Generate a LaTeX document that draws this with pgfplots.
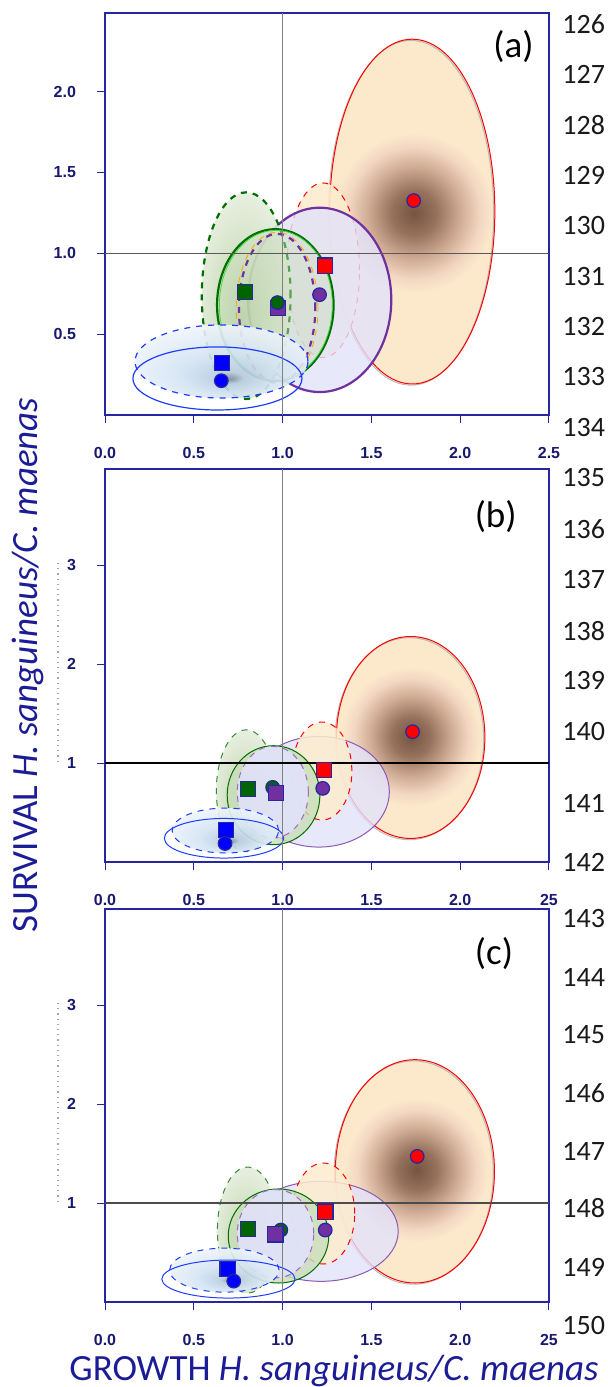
\documentclass[border=0pt]{standalone}
\usepackage{pgfplots}
\pgfplotsset{compat=1.18}
\usepackage{fontspec}
\setmainfont{Carlito}
\newfontfamily\tickfont{Liberation Sans}

\definecolor{navy}{RGB}{38,38,160}
\definecolor{ticknavy}{RGB}{25,25,110}
\definecolor{labelblue}{RGB}{28,28,150}
\definecolor{wheatc}{RGB}{252,233,203}
\definecolor{wheatd}{RGB}{253,236,206}
\definecolor{glow0}{RGB}{118,84,64}
\definecolor{glow1}{RGB}{150,114,94}
\definecolor{glow2}{RGB}{208,172,148}
\definecolor{glow3}{RGB}{242,214,194}
\definecolor{lav}{RGB}{226,226,250}
\definecolor{purp}{RGB}{112,48,160}
\definecolor{dgreen}{RGB}{0,110,0}
\definecolor{lgreen}{RGB}{70,220,70}
\definecolor{lgreenfill}{RGB}{200,222,185}
\definecolor{mblue}{RGB}{30,60,255}
\definecolor{bl0}{RGB}{125,140,160}
\definecolor{bl1}{RGB}{185,205,228}
\definecolor{bl2}{RGB}{212,228,243}
\definecolor{bl3}{RGB}{240,245,251}
\definecolor{gr0}{RGB}{168,194,148}
\definecolor{gr1}{RGB}{194,214,176}
\definecolor{gr2}{RGB}{232,240,224}
\definecolor{mgreen}{RGB}{0,100,0}
\definecolor{mpurple}{RGB}{112,48,160}
\definecolor{orangec}{RGB}{255,165,0}

\pgfdeclareradialshading{glowsh}{\pgfpoint{0bp}{0bp}}{color(0bp)=(glow0); color(7bp)=(glow1); color(14.5bp)=(glow2); color(20.5bp)=(glow3); color(25bp)=(wheatc); color(50bp)=(wheatc)}
\pgfdeclareradialshading{bluesh}{\pgfpoint{2.5bp}{-12bp}}{color(0bp)=(bl0); color(4bp)=(bl1); color(14bp)=(bl2); color(30bp)=(bl3); color(50bp)=(bl3)}
\pgfdeclareradialshading{greensh}{\pgfpoint{-2.5bp}{-6bp}}{color(0bp)=(gr0); color(10bp)=(gr1); color(30bp)=(gr2); color(50bp)=(gr2)}

\pgfplotsset{
  panel/.style={
    scale only axis, width=222pt,
    xmin=0, xmax=2.5, ymin=0,
    axis line style={draw=navy, line width=0.6pt},
    tick align=outside, tick pos=left,
    major tick length=4pt,
    tick style={navy, line width=0.5pt},
    xtick={0,0.5,1,1.5,2,2.5},
    xticklabel style={font=\tickfont\bfseries\fontsize{8}{9}\selectfont, text=ticknavy, yshift=-8.5pt},
    yticklabel style={font=\tickfont\bfseries\fontsize{8}{9}\selectfont, text=ticknavy, xshift=-7pt},
  },
  mcirc/.style={only marks, mark=*, mark size=3.4pt, mark options={fill=#1, draw=navy, line width=0.6pt}},
  msq/.style={only marks, mark=square*, mark size=3.8pt, mark options={fill=#1, draw=navy, line width=0.6pt}},
}

\begin{document}
\begin{tikzpicture}
\path[use as bounding box] (0,0) rectangle (304pt,-693.5pt);

% ---------------- panel (a)
\begin{axis}[panel, at={(52.5pt,-207.5pt)}, anchor=south west, height=201pt, ymax=2.486,
  ytick={0.5,1,1.5,2}, yticklabels={0.5,1.0,1.5,2.0},
  xticklabels={0.0,0.5,1.0,1.5,2.0,2.5}]
 % big red
 \fill[wheatc] (axis cs:1.73,1.258) ellipse [x radius=0.465, y radius=1.066];
 \begin{scope}
  \clip (axis cs:1.73,1.258) ellipse [x radius=0.465, y radius=1.066];
  \shade[shading=glowsh] (axis cs:1.74,1.25) ellipse [x radius=0.45, y radius=0.495];
 \end{scope}
 \draw[gray!55, line width=0.5pt, xshift=-0.6pt, yshift=-0.6pt] (axis cs:1.73,1.258) ellipse [x radius=0.465, y radius=1.066];
 \draw[red, line width=0.5pt] (axis cs:1.73,1.258) ellipse [x radius=0.465, y radius=1.066];
 % red dashed
 \fill[wheatd, fill opacity=0.9] (axis cs:1.228,0.895) ellipse [x radius=0.205, y radius=0.54];
 \draw[red, dashed, line width=0.5pt] (axis cs:1.228,0.895) ellipse [x radius=0.205, y radius=0.54];
 % purple solid
 \fill[lav, fill opacity=0.8] (axis cs:1.209,0.712) ellipse [x radius=0.403, y radius=0.57];
 \draw[purp, line width=1.1pt] (axis cs:1.209,0.712) ellipse [x radius=0.403, y radius=0.57];
 % green dashed
 \shade[shading=greensh, fill opacity=0.85] (axis cs:0.795,0.738) ellipse [x radius=0.25, y radius=0.639];
 \draw[dgreen, dashed, line width=1.1pt] (axis cs:0.795,0.738) ellipse [x radius=0.25, y radius=0.639];
 % green solid
 \fill[lgreenfill, fill opacity=0.45] (axis cs:0.959,0.68) ellipse [x radius=0.328, y radius=0.469];
 \draw[dgreen, line width=1.1pt] (axis cs:0.959,0.68) ellipse [x radius=0.328, y radius=0.469];
 \draw[lgreen, line width=0.4pt] (axis cs:0.962,0.68) ellipse [x radius=0.318, y radius=0.462];
 % purple dashed
 \draw[orangec, dashed, line width=0.4pt] (axis cs:0.969,0.66) ellipse [x radius=0.23, y radius=0.47];
 \draw[purp, dashed, line width=1.1pt] (axis cs:0.969,0.66) ellipse [x radius=0.215, y radius=0.46];
 % blue dashed
 \shade[shading=bluesh, fill opacity=0.9] (axis cs:0.656,0.331) ellipse [x radius=0.487, y radius=0.226];
 \draw[mblue, dashed, line width=0.6pt] (axis cs:0.656,0.331) ellipse [x radius=0.487, y radius=0.226];
 % blue solid
 \draw[mblue, line width=0.6pt] (axis cs:0.633,0.226) ellipse [x radius=0.476, y radius=0.195];
 % reference lines
 \draw[gray, line width=0.6pt] (axis cs:1,0) -- (axis cs:1,2.486);
 \draw[black!65, line width=0.6pt] (axis cs:0,1) -- (axis cs:2.5,1);
 % means
 \addplot[msq=blue] coordinates {(0.659,0.320)};
 \addplot[mcirc=blue] coordinates {(0.655,0.212)};
 \addplot[msq=mgreen] coordinates {(0.789,0.761)};
 \addplot[msq=mpurple] coordinates {(0.975,0.660)};
 \addplot[mcirc=mgreen] coordinates {(0.971,0.695)};
 \addplot[mcirc=mpurple] coordinates {(1.208,0.744)};
 \addplot[msq=red] coordinates {(1.239,0.924)};
 \addplot[mcirc=red] coordinates {(1.738,1.326)};
 \node[font=\fontsize{18.5}{20}\selectfont] at (axis cs:2.30,2.28) {(a)};
\end{axis}

% ---------------- panel (b)
\begin{axis}[panel, at={(52.5pt,-431pt)}, anchor=south west, height=196.5pt, ymax=3.97,
  ytick={1,2,3}, yticklabels={1,2,3},
  xticklabels={0.0,0.5,1.0,1.5,2.0,25}]
 \fill[wheatc] (axis cs:1.721,1.258) ellipse [x radius=0.418, y radius=1.02];
 \begin{scope}
  \clip (axis cs:1.721,1.258) ellipse [x radius=0.418, y radius=1.02];
  \shade[shading=glowsh] (axis cs:1.724,1.266) ellipse [x radius=0.392, y radius=0.707];
 \end{scope}
 \draw[gray!55, line width=0.5pt, xshift=-0.6pt, yshift=-0.6pt] (axis cs:1.721,1.258) ellipse [x radius=0.418, y radius=1.02];
 \draw[red, line width=0.5pt] (axis cs:1.721,1.258) ellipse [x radius=0.418, y radius=1.02];
 % purple solid
 \fill[lav, fill opacity=0.8] (axis cs:1.204,0.71) ellipse [x radius=0.397, y radius=0.559];
 \draw[purp!80, line width=0.5pt] (axis cs:1.204,0.71) ellipse [x radius=0.397, y radius=0.559];
 % red dashed
 \fill[wheatd, fill opacity=0.85] (axis cs:1.222,0.919) ellipse [x radius=0.168, y radius=0.495];
 \draw[red, dashed, line width=0.5pt] (axis cs:1.222,0.919) ellipse [x radius=0.168, y radius=0.495];
 % green dashed
 \shade[shading=greensh, fill opacity=0.85] (axis cs:0.795,0.72) ellipse [x radius=0.168, y radius=0.615];
 \draw[dgreen!80, dashed, line width=0.5pt] (axis cs:0.795,0.72) ellipse [x radius=0.168, y radius=0.615];
 % green solid
 \fill[lgreenfill, fill opacity=0.8] (axis cs:0.949,0.675) ellipse [x radius=0.261, y radius=0.5];
 \draw[dgreen, line width=0.5pt] (axis cs:0.949,0.675) ellipse [x radius=0.261, y radius=0.5];
 % purple dashed
 \fill[lav, fill opacity=0.9] (axis cs:0.945,0.705) ellipse [x radius=0.2, y radius=0.463];
 \draw[purp!70, dashed, line width=0.5pt] (axis cs:0.945,0.705) ellipse [x radius=0.2, y radius=0.463];
 % blue dashed
 \shade[shading=bluesh, fill opacity=0.9] (axis cs:0.678,0.318) ellipse [x radius=0.30, y radius=0.227];
 \draw[mblue, dashed, line width=0.5pt] (axis cs:0.678,0.318) ellipse [x radius=0.30, y radius=0.227];
 \draw[mblue, line width=0.5pt] (axis cs:0.67,0.24) ellipse [x radius=0.336, y radius=0.2];
 % reference lines
 \draw[gray, line width=0.5pt] (axis cs:1,0) -- (axis cs:1,3.97);
 \draw[black, line width=0.6pt] (axis cs:0,1) -- (axis cs:2.5,1);
 % means
 \addplot[mcirc=mgreen] coordinates {(0.944,0.754)};
 \addplot[msq=blue] coordinates {(0.682,0.325)};
 \addplot[mcirc=blue] coordinates {(0.676,0.187)};
 \addplot[msq=mgreen] coordinates {(0.805,0.736)};
 \addplot[msq=mpurple] coordinates {(0.964,0.695)};
 \addplot[mcirc=mpurple] coordinates {(1.226,0.744)};
 \addplot[msq=red] coordinates {(1.233,0.927)};
 \addplot[mcirc=red] coordinates {(1.732,1.316)};
 \node[font=\fontsize{18.5}{20}\selectfont] at (axis cs:2.20,3.49) {(b)};
\end{axis}

% ---------------- panel (c)
\begin{axis}[panel, at={(52.5pt,-651pt)}, anchor=south west, height=196.5pt, ymax=3.97,
  ytick={1,2,3}, yticklabels={1,2,3},
  xticklabels={0.0,0.5,1.0,1.5,2.0,25}]
 \fill[wheatc] (axis cs:1.745,1.32) ellipse [x radius=0.448, y radius=1.128];
 \begin{scope}
  \clip (axis cs:1.745,1.32) ellipse [x radius=0.448, y radius=1.128];
  \shade[shading=glowsh] (axis cs:1.756,1.333) ellipse [x radius=0.404, y radius=0.727];
 \end{scope}
 \draw[gray!55, line width=0.5pt, xshift=-0.6pt, yshift=-0.6pt] (axis cs:1.745,1.32) ellipse [x radius=0.448, y radius=1.128];
 \draw[red, line width=0.5pt] (axis cs:1.745,1.32) ellipse [x radius=0.448, y radius=1.128];
 % purple solid
 \fill[lav, fill opacity=0.8] (axis cs:1.215,0.714) ellipse [x radius=0.436, y radius=0.505];
 \draw[purp!80, line width=0.5pt] (axis cs:1.215,0.714) ellipse [x radius=0.436, y radius=0.505];
 % red dashed
 \fill[wheatd, fill opacity=0.85] (axis cs:1.23,0.894) ellipse [x radius=0.176, y radius=0.51];
 \draw[red, dashed, line width=0.5pt] (axis cs:1.23,0.894) ellipse [x radius=0.176, y radius=0.51];
 % green dashed
 \shade[shading=greensh, fill opacity=0.85] (axis cs:0.804,0.727) ellipse [x radius=0.171, y radius=0.636];
 \draw[dgreen!80, dashed, line width=0.5pt] (axis cs:0.804,0.727) ellipse [x radius=0.171, y radius=0.636];
 % green solid
 \fill[lgreenfill, fill opacity=0.8] (axis cs:0.977,0.667) ellipse [x radius=0.283, y radius=0.475];
 \draw[dgreen, line width=0.5pt] (axis cs:0.977,0.667) ellipse [x radius=0.283, y radius=0.475];
 % purple dashed
 \fill[lav, fill opacity=0.9] (axis cs:0.96,0.69) ellipse [x radius=0.215, y radius=0.446];
 \draw[purp!70, dashed, line width=0.5pt] (axis cs:0.96,0.69) ellipse [x radius=0.215, y radius=0.446];
 % blue dashed
 \shade[shading=bluesh, fill opacity=0.9] (axis cs:0.672,0.322) ellipse [x radius=0.308, y radius=0.222];
 \draw[mblue, dashed, line width=0.5pt] (axis cs:0.672,0.322) ellipse [x radius=0.308, y radius=0.222];
 \draw[mblue, line width=0.5pt] (axis cs:0.695,0.232) ellipse [x radius=0.375, y radius=0.192];
 % reference lines
 \draw[gray, line width=0.5pt] (axis cs:1,0) -- (axis cs:1,3.97);
 \draw[black!70, line width=0.6pt] (axis cs:0,1) -- (axis cs:2.5,1);
 % means
 \addplot[mcirc=mgreen] coordinates {(0.99,0.727)};
 \addplot[msq=blue] coordinates {(0.690,0.333)};
 \addplot[mcirc=blue] coordinates {(0.725,0.211)};
 \addplot[msq=mgreen] coordinates {(0.805,0.739)};
 \addplot[msq=mpurple] coordinates {(0.960,0.683)};
 \addplot[mcirc=mpurple] coordinates {(1.240,0.727)};
 \addplot[msq=red] coordinates {(1.241,0.914)};
 \addplot[mcirc=red] coordinates {(1.758,1.471)};
 \node[font=\fontsize{18.5}{20}\selectfont] at (axis cs:2.19,3.52) {(c)};
\end{axis}

% dotted guide lines
\draw[gray!70, dotted, line width=0.6pt] (29pt,-281.5pt) -- (29pt,-381.5pt);
\draw[gray!70, dotted, line width=0.6pt] (29pt,-501.5pt) -- (29pt,-601.5pt);

% axis titles
\node[rotate=90, font=\fontsize{18.5}{20}\selectfont, text=labelblue] at (13.75pt,-332.5pt) {SURVIVAL \textit{H. sanguineus/C. maenas}};
\node[anchor=base, font=\fontsize{18.5}{20}\selectfont, text=labelblue] at (167pt,-690pt) {GROWTH \textit{H. sanguineus/C. maenas}};

% line numbers
\foreach \n/\y in {126/12,127/37,128/62.5,129/87.5,130/113,131/138.5,132/163.5,133/188.5,134/214,
  135/239,136/264.5,137/290,138/315.5,139/340.5,140/366,141/401.5,142/431,
  143/459,144/488.5,145/517.5,146/546.5,147/575.5,148/604,149/633.5,150/662.5}
  \node[anchor=west, inner sep=0pt, font=\fontsize{14}{16}\selectfont, text=black!90] at (281pt,-\y pt) {\n};
\end{tikzpicture}
\end{document}
